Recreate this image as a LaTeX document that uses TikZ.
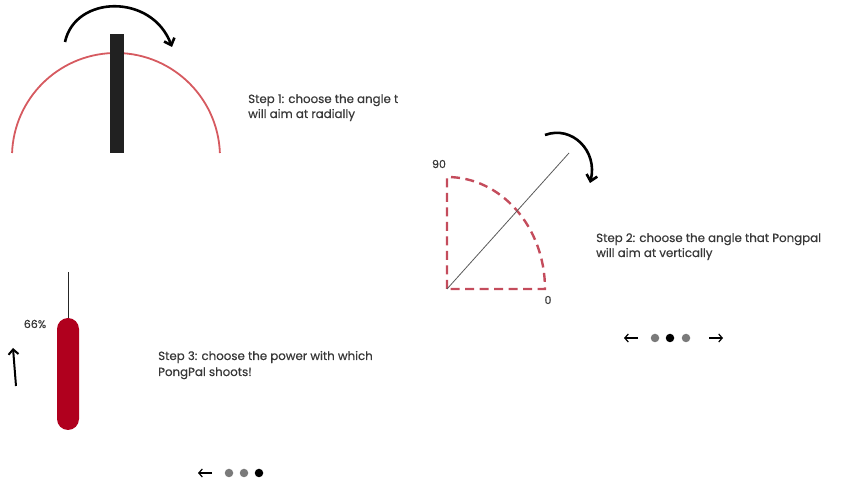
\documentclass[tikz,border=0pt]{standalone}
\usepackage{fontspec}
\setmainfont{Poppins}[FakeBold=0.5]
\usetikzlibrary{arrows.meta}
\definecolor{arcred}{HTML}{D65A60}
\definecolor{dashred}{HTML}{C44C5C}
\definecolor{barred}{HTML}{B0001E}
\definecolor{txt}{HTML}{383838}
\definecolor{dotgray}{HTML}{7A7A7A}
\tikzset{
  lbl/.style={anchor=base west, inner sep=0pt, text=txt, font=\fontsize{11.8}{14}\selectfont},
  curvy/.style={line width=2.6pt, -{Straight Barb[length=6pt,width=11pt,line width=2.6pt]}},
  navarrow/.style={line width=1.2pt, -{Straight Barb[length=3.5pt,width=8pt]}},
  navdot/.style={circle, inner sep=0pt, minimum size=8.5pt},
}
\begin{document}
\begin{tikzpicture}[x=1pt,y=1pt]
\useasboundingbox (0,0) rectangle (848,481);
% ---------- Step 1 ----------
\draw[arcred, line width=1.8pt] (219.9,328) arc[start angle=2.2, end angle=177.8, radius=104];
\fill[black!87] (110,328) rectangle (124,447);
\coordinate (a1s) at (65,439);
\coordinate (a1e) at (172,434);
\draw[curvy] (a1s) .. controls (75,486) and (152,488) .. (a1e);
\node[lbl] (s1a) at (248,378) {Step 1: choose the angle t};
\node[lbl] (s1b) at (248,363) {will aim at radially};
% ---------- Step 2 ----------
\coordinate (c) at (447,192);
\draw[dashred, line width=2.4pt, dash pattern=on 9pt off 5.5pt]
  (c) -- (447,304) arc[start angle=90, end angle=0, x radius=98, y radius=112] -- cycle;
\coordinate (tip) at (569,328);
\draw[black!65, line width=0.8pt] (c) -- (tip);
\node[text=txt, font=\fontsize{11}{13}\selectfont] (n90) at (439,317) {90};
\node[text=txt, font=\fontsize{11}{13}\selectfont] (n0) at (548,181) {0};
\coordinate (a2s) at (545,346);
\coordinate (a2e) at (590,298);
\draw[curvy] (a2s) .. controls (572,356) and (598,330) .. (a2e);
\node[lbl] (s2a) at (596,239) {Step 2: choose the angle that Pongpal};
\node[lbl] (s2b) at (596,224) {will aim at vertically};
% nav 2
\coordinate (l2a) at (638,143); \coordinate (l2b) at (624,143);
\draw[navarrow] (l2a) -- (l2b);
\node[navdot, fill=dotgray] (d21) at (655,143) {};
\node[navdot, fill=black] (d22) at (670,143) {};
\node[navdot, fill=dotgray] (d23) at (686,143) {};
\coordinate (r2a) at (709,143); \coordinate (r2b) at (723,143);
\draw[navarrow] (r2a) -- (r2b);
% ---------- Step 3 ----------
\coordinate (st) at (68,209); \coordinate (sb) at (68,163);
\draw[black!85, line width=1pt] (st) -- (sb);
\fill[barred, rounded corners=11pt] (57,51) rectangle (79,163);
\node[text=txt, font=\fontsize{11}{13}\selectfont] (pct) at (35,157) {66\%};
\coordinate (u1) at (16,95); \coordinate (u2) at (13,133);
\draw[line width=2pt, -{Straight Barb[length=5pt,width=10pt,line width=2pt]}] (u1) -- (u2);
\node[lbl] (s3a) at (158,121) {Step 3: choose the power with which};
\node[lbl] (s3b) at (158,105) {PongPal shoots!};
% nav 3
\coordinate (l3a) at (212,8); \coordinate (l3b) at (198,8);
\draw[navarrow] (l3a) -- (l3b);
\node[navdot, fill=dotgray] (d31) at (229,8) {};
\node[navdot, fill=dotgray] (d32) at (244,8) {};
\node[navdot, fill=black] (d33) at (259,8) {};
\end{tikzpicture}
\end{document}
